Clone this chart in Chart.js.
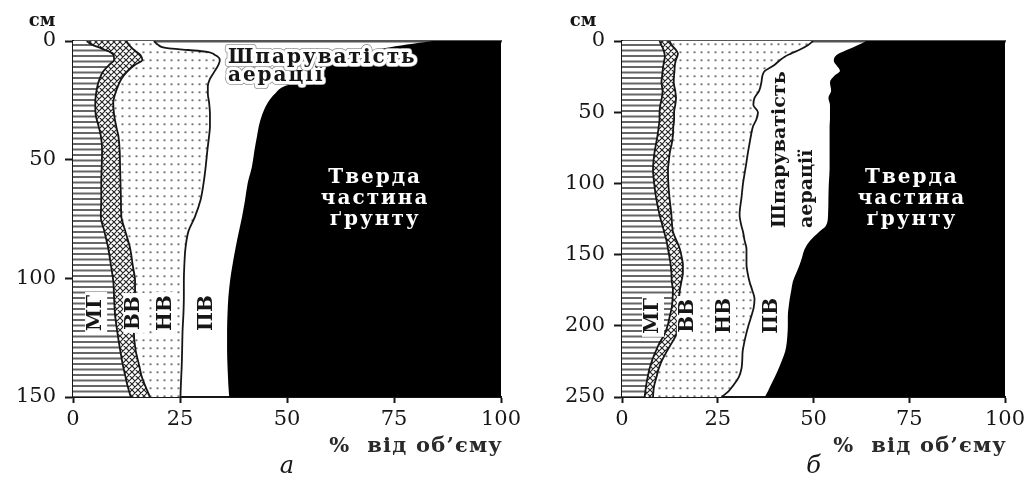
<!DOCTYPE html>
<html>
<head>
<meta charset="utf-8">
<script src="https://cdn.jsdelivr.net/npm/chart.js@4.4.1/dist/chart.umd.min.js"></script>
<style>
  html, body { margin: 0; padding: 0; background: #fff; }
  #wrap { position: relative; width: 1033px; height: 480px; overflow: hidden; }
  canvas { position: absolute; top: 0; }
  #cA { left: 0; }
  #cB { left: 530px; }
</style>
</head>
<body>
<div id="wrap">
  <canvas id="cA" width="545" height="480"></canvas>
  <canvas id="cB" width="503" height="480"></canvas>
</div>
<script>
// Soil volume composition by depth. Each series is the cumulative share (% of volume)
// at the right edge of a component: МГ, then +ВВ, then +НВ, then +ПВ (aeration
// porosity); the rest up to 100 % is the solid phase.

// Profile "а" (0–150 cm)
const depthA = [0, 1.5, 3, 3.8, 4.5, 6, 8, 10, 13, 16, 19, 22, 26, 31, 36, 40, 46, 53, 60, 67, 74, 80, 87, 95, 101, 108, 115, 122, 130, 137, 141, 145, 150];
const mgA = [3.2, 4.3, 6.5, 7.5, 8.5, 9.5, 9.6, 8.5, 7, 6.2, 5.7, 5.4, 5.2, 5.3, 6, 6.5, 6.8, 6.7, 6.6, 6.6, 6.5, 7.3, 8.2, 8.9, 9.4, 9.6, 9.8, 10.3, 11, 11.7, 12.2, 12.7, 13.5];
const vvA = [12.5, 13, 13.8, 14.3, 14.8, 15.8, 16.2, 14.5, 12.6, 11.3, 10.5, 9.9, 9.4, 9.6, 10.1, 10.6, 10.9, 11, 11.1, 11.2, 11.3, 12.2, 13.3, 14, 14.5, 14.5, 14.3, 14.2, 14.6, 15.5, 16, 16.8, 18];
const nvA = [18.9, 19.8, 22, 27, 31, 33.3, 34.3, 34, 33, 32, 31.5, 31.5, 31.8, 32, 32, 31.8, 31.4, 31, 30.5, 29.8, 28.5, 27, 26.3, 26, 25.9, 25.9, 25.8, 25.6, 25.5, 25.4, 25.3, 25.2, 25.1];
const pvA = [84, 78, 73, 71, 69, 65, 61.5, 59.5, 58.5, 55.5, 49.5, 47.3, 45.5, 44.2, 43.4, 43, 42.4, 41.8, 40.8, 40.2, 39.5, 38.8, 38, 37.2, 36.7, 36.3, 36.1, 36, 36, 36.1, 36.2, 36.3, 36.5];
const yTicksA = [0, 50, 100, 150];

// Profile "б" (0–250 cm)
const depthB = [0, 3, 6, 9, 11, 14, 17, 21, 24, 29, 35, 40, 45, 50, 55, 60, 66, 72, 78, 85, 90, 100, 110, 122, 130, 134, 140, 146, 152, 157, 163, 169, 175, 181, 187, 193, 200, 206, 212, 218, 224, 230, 236, 242, 246, 250];
const mgB = [9.8, 10.3, 10.8, 11.1, 11.2, 11, 10.8, 10.6, 10.5, 10.3, 10.6, 10.4, 10, 9.8, 9.8, 9.6, 9.3, 8.9, 8.5, 8.2, 8.1, 8.4, 8.9, 9.8, 10.6, 11, 11.6, 12, 12.4, 12.7, 12.9, 13, 13.3, 13.2, 13, 12.5, 11.9, 11.1, 9.8, 8.8, 7.9, 7.2, 6.7, 6.3, 6.1, 5.9];
const vvB = [12.4, 13, 14, 14.6, 14.4, 14, 13.8, 13.7, 13.6, 13.5, 13.9, 14.1, 13.9, 13.6, 13.6, 13.4, 13.3, 13, 12.5, 12.2, 12, 12.1, 12.4, 12.9, 13.1, 13.3, 14.2, 15.1, 15.6, 15.9, 15.9, 15.5, 15.1, 14.9, 14.8, 14.7, 14.5, 14.2, 13, 11.7, 10.5, 9.6, 9, 8.4, 8.2, 8.1];
const nvB = [49.9, 48.5, 46.5, 44, 42.5, 41, 39.7, 37.3, 36.7, 36.4, 35.8, 34.6, 34.3, 35.5, 35.1, 34.2, 33.7, 33.3, 32.9, 32.5, 32.2, 31.6, 31.2, 30.7, 31.2, 31.6, 32, 32.5, 32.5, 32.5, 32.8, 33.3, 34, 34.6, 34.4, 33.8, 33, 32.4, 31.9, 31.5, 31.4, 31.2, 30.5, 29, 27.8, 26];
const pvB = [63.8, 61.5, 59, 56.5, 55.6, 55.3, 56, 56.9, 55.6, 54.3, 54.6, 53.9, 54.3, 54.3, 54.3, 54.2, 54.2, 54.2, 54.2, 54.2, 54.2, 54, 53.9, 53.8, 53.2, 51.5, 49.2, 47.7, 47, 46.4, 45.5, 44.6, 44.2, 43.8, 43.5, 43.3, 43.3, 43.2, 43, 42.6, 41.8, 40.9, 39.9, 38.8, 38.1, 37.3];
const yTicksB = [0, 50, 100, 150, 200, 250];

const xTicks = [0, 25, 50, 75, 100];
const xMin = 0;
const xMax = 100;

const SERIF = '"DejaVu Serif", "Liberation Serif", serif';
const INK = '#161616';

// Fill patterns, built on white so overlapping fills hide what lies below.
function tile(w, h, paint) {
  const c = document.createElement('canvas');
  c.width = w; c.height = h;
  const g = c.getContext('2d');
  g.fillStyle = '#fff';
  g.fillRect(0, 0, w, h);
  paint(g, w, h);
  return c;
}
function makePatterns(ctx) {
  const lines = ctx.createPattern(tile(8, 11, (g) => {
    g.fillStyle = '#666';
    g.fillRect(0, 0, 8, 2);
    g.fillRect(0, 5.5, 8, 2);
  }), 'repeat');
  const cross = ctx.createPattern(tile(6, 6, (g) => {
    g.strokeStyle = '#262626';
    g.lineWidth = 1.2;
    g.beginPath();
    for (const dx of [-6, 0, 6]) {
      g.moveTo(dx - 1, -1); g.lineTo(dx + 7, 7);
      g.moveTo(dx + 7, -1); g.lineTo(dx - 1, 7);
    }
    g.stroke();
  }), 'repeat');
  const dots = ctx.createPattern(tile(7, 8, (g) => {
    g.fillStyle = '#6e6e6e';
    g.fillRect(2.5, 3.4, 2, 1.8);
  }), 'repeat');
  return { lines, cross, dots };
}

// Text annotations placed in data coordinates, plus free text outside the plot.
const notesPlugin = {
  id: 'notes',
  afterDraw(chart, args, opts) {
    const { ctx, scales: { x, y }, chartArea } = chart;
    ctx.save();
    for (const n of opts.items) {
      const px = x.getPixelForValue(n.x);
      const py = y.getPixelForValue(n.y);
      ctx.save();
      ctx.translate(px, py);
      if (n.rot) ctx.rotate(-Math.PI / 2);
      ctx.font = n.font;
      if (n.spacing) ctx.letterSpacing = n.spacing;
      ctx.textAlign = n.align || 'center';
      ctx.textBaseline = 'middle';
      const w = ctx.measureText(n.t).width;
      if (n.box) {
        const h = n.boxH || 22;
        const x0 = ctx.textAlign === 'left' ? 0 : -w / 2;
        ctx.fillStyle = '#fff';
        ctx.fillRect(x0 - 3, -h / 2, w + 6, h);
      }
      if (n.halo) {
        ctx.lineJoin = 'round';
        ctx.lineWidth = 8;
        ctx.strokeStyle = '#8a8a8a';
        ctx.strokeText(n.t, 0, 0);
        ctx.lineWidth = 6.5;
        ctx.strokeStyle = '#fff';
        ctx.strokeText(n.t, 0, 0);
      }
      ctx.fillStyle = n.color || INK;
      ctx.fillText(n.t, 0, 0);
      ctx.restore();
    }
    for (const n of opts.free) {
      ctx.save();
      ctx.font = n.font;
      ctx.textBaseline = 'middle';
      ctx.fillStyle = n.color || INK;
      if (n.spacing) ctx.letterSpacing = n.spacing;
      let px = n.px;
      if (n.anchor === 'center') { px = (chartArea.left + chartArea.right) / 2; ctx.textAlign = 'center'; }
      else if (n.anchor === 'right') { px = chartArea.right + 2; ctx.textAlign = 'right'; }
      else ctx.textAlign = 'center';
      ctx.fillText(n.t, px, n.py);
      ctx.restore();
    }
    ctx.restore();
  }
};

function buildChart(canvasId, cfg) {
  const canvas = document.getElementById(canvasId);
  const ctx = canvas.getContext('2d');
  const pat = makePatterns(ctx);
  const series = (vals, fillTo, bg, bw) => ({
    data: cfg.depth.map((d, i) => ({ x: vals[i], y: d })),
    fill: { value: fillTo },
    backgroundColor: bg,
    borderColor: INK,
    borderWidth: bw,
    pointRadius: 0,
    cubicInterpolationMode: 'monotone'
  });

  return new Chart(ctx, {
    type: 'line',
    data: {
      datasets: [
        series(cfg.mg, xMin, pat.lines, 1.8),
        series(cfg.vv, xMin, pat.cross, 1.8),
        series(cfg.nv, xMin, pat.dots, 1.8),
        series(cfg.pv, xMax, '#000', 0)
      ]
    },
    options: {
      indexAxis: 'y',
      responsive: false,
      animation: false,
      devicePixelRatio: 1,
      layout: { padding: { left: 0, right: cfg.padRight, top: 41, bottom: 0 } },
      plugins: {
        legend: { display: false },
        tooltip: { enabled: false },
        notes: { items: cfg.notes, free: cfg.free }
      },
      scales: {
        x: {
          type: 'linear',
          position: 'bottom',
          min: xMin,
          max: xMax,
          z: 1,
          afterBuildTicks: (s) => { s.ticks = xTicks.map((v) => ({ value: v })); },
          afterFit: (s) => { s.height = 83; },
          grid: { drawOnChartArea: false, drawTicks: true, tickLength: 6, tickWidth: 2, tickColor: INK },
          border: { display: true, color: INK, width: 2 },
          ticks: { font: { family: SERIF, size: 21 }, color: INK, padding: 4, maxRotation: 0, autoSkip: false }
        },
        xTop: {
          type: 'linear',
          position: 'top',
          min: xMin,
          max: xMax,
          z: 1,
          afterFit: (s) => { s.height = 0; },
          grid: { drawOnChartArea: false, drawTicks: false },
          border: { display: true, color: '#555', width: 2.5 },
          ticks: { display: false }
        },
        y: {
          type: 'linear',
          reverse: true,
          min: 0,
          max: cfg.maxDepth,
          z: 1,
          afterBuildTicks: (s) => { s.ticks = cfg.yTicks.map((v) => ({ value: v })); },
          afterFit: (s) => { s.width = cfg.yWidth; },
          grid: { drawOnChartArea: false, drawTicks: true, tickLength: 8, tickWidth: 2, tickColor: INK },
          border: { display: true, color: INK, width: 2 },
          ticks: { font: { family: SERIF, size: 21 }, color: INK, padding: 9, autoSkip: false }
        }
      }
    },
    plugins: [notesPlugin]
  });
}

const labelFont = `bold 20px ${SERIF}`;
const zoneFont = `bold 20px ${SERIF}`;
const rotFont = `bold 19px ${SERIF}`;
const axisTitle = { t: '%  від об’єму', anchor: 'right', py: 447, spacing: '1.2px', color: '#2a2a2a', font: `bold 21px ${SERIF}` };

buildChart('cA', {
  depth: depthA, mg: mgA, vv: vvA, nv: nvA, pv: pvA,
  maxDepth: 150, yTicks: yTicksA, yWidth: 73, padRight: 44,
  notes: [
    { t: 'МГ', x: 5.4, y: 114.6, rot: true, box: true, font: zoneFont },
    { t: 'ВВ', x: 14.3, y: 114.6, rot: true, box: true, font: zoneFont },
    { t: 'НВ', x: 21.7, y: 114.6, rot: true, box: true, font: zoneFont },
    { t: 'ПВ', x: 31.3, y: 114.6, rot: true, font: zoneFont },
    { t: 'аерації', x: 36.2, y: 14.7, align: 'left', halo: true, spacing: '2px', font: labelFont },
    { t: 'Шпаруватість', x: 36.2, y: 7.2, align: 'left', halo: true, spacing: '2px', font: labelFont },
    { t: 'Тверда', x: 70.6, y: 57.7, spacing: '2px', font: labelFont, color: '#fff' },
    { t: 'частина', x: 70.6, y: 66.6, spacing: '2px', font: labelFont, color: '#fff' },
    { t: 'ґрунту', x: 70.6, y: 75.4, spacing: '2px', font: labelFont, color: '#fff' }
  ],
  free: [
    { t: 'см', px: 42, py: 21, font: `bold 18px ${SERIF}` },
    axisTitle,
    { t: 'а', anchor: 'center', py: 467, font: `italic 24px ${SERIF}` }
  ]
});

buildChart('cB', {
  depth: depthB, mg: mgB, vv: vvB, nv: nvB, pv: pvB,
  maxDepth: 250, yTicks: yTicksB, yWidth: 92, padRight: 28,
  notes: [
    { t: 'МГ', x: 8.1, y: 193, rot: true, box: true, font: zoneFont },
    { t: 'ВВ', x: 17.2, y: 193, rot: true, box: true, font: zoneFont },
    { t: 'НВ', x: 26.9, y: 193, rot: true, box: true, font: zoneFont },
    { t: 'ПВ', x: 39.2, y: 193, rot: true, font: zoneFont },
    { t: 'Шпаруватість', x: 41.3, y: 131.3, rot: true, align: 'left', font: rotFont },
    { t: 'аерації', x: 48.3, y: 131.3, rot: true, align: 'left', font: rotFont },
    { t: 'Тверда', x: 75.7, y: 96.2, spacing: '2px', font: labelFont, color: '#fff' },
    { t: 'частина', x: 75.7, y: 111, spacing: '2px', font: labelFont, color: '#fff' },
    { t: 'ґрунту', x: 75.7, y: 125.7, spacing: '2px', font: labelFont, color: '#fff' }
  ],
  free: [
    { t: 'см', px: 53, py: 21, font: `bold 18px ${SERIF}` },
    axisTitle,
    { t: 'б', anchor: 'center', py: 467, font: `italic 24px ${SERIF}` }
  ]
});
</script>
</body>
</html>
